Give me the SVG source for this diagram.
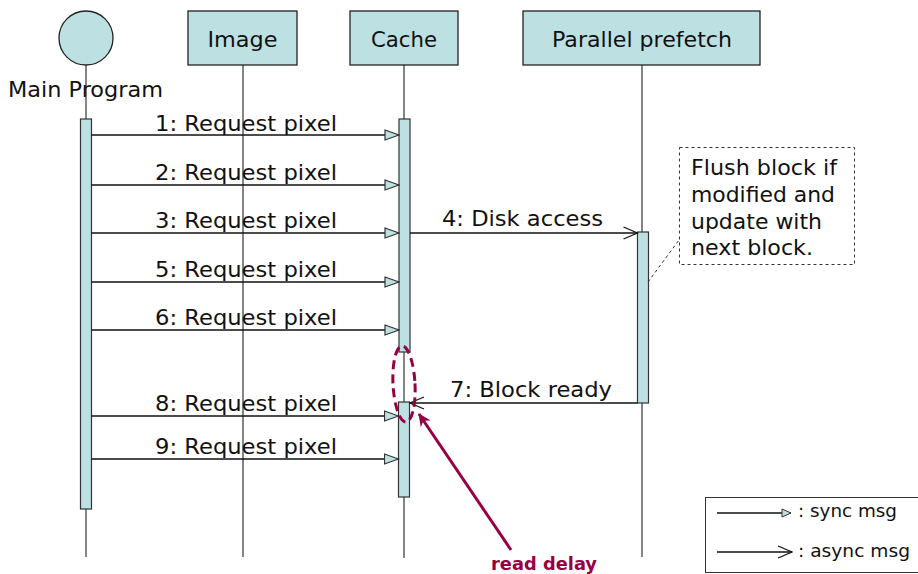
<svg xmlns="http://www.w3.org/2000/svg" width="918" height="574" viewBox="0 0 918 574">
<style>
text{font-family:"DejaVu Sans","Liberation Sans",sans-serif;fill:#111}
.hd{font-size:21px;text-anchor:middle}
.lbl{font-size:21px;text-anchor:middle}
.note{font-size:21px}
.lg{font-size:17px}
.box{fill:#bde0e3;stroke:#222;stroke-width:1.3}
.life{stroke:#333;stroke-width:1.2;fill:none}
.act{fill:#bde0e3;stroke:#333;stroke-width:1.2}
.msg{stroke:#111;stroke-width:1.3;fill:none}
.red{stroke:#990044;fill:none}
</style>
<defs>
<marker id="sync" viewBox="0 0 16 12" refX="15" refY="6" markerWidth="16" markerHeight="12" markerUnits="userSpaceOnUse" orient="auto">
<path d="M1,1 L15,6 L1,11 Z" fill="#bde0e3" stroke="#333" stroke-width="1.2"/>
</marker>
<marker id="syncs" viewBox="0 0 11 10" refX="10" refY="5" markerWidth="11" markerHeight="10" markerUnits="userSpaceOnUse" orient="auto">
<path d="M1,1 L10,5 L1,9 Z" fill="#bde0e3" stroke="#333" stroke-width="1"/>
</marker>
<marker id="async" viewBox="0 0 16 14" refX="15" refY="7" markerWidth="16" markerHeight="14" markerUnits="userSpaceOnUse" orient="auto">
<path d="M1,1 L15,7 L1,13" fill="none" stroke="#111" stroke-width="1.2"/>
</marker>
<marker id="redarrow" viewBox="0 0 14 14" refX="12" refY="7" markerWidth="14" markerHeight="14" markerUnits="userSpaceOnUse" orient="auto">
<path d="M0,1 L13,7 L0,13 L4,7 Z" fill="#990044"/>
</marker>
</defs>

<g id="lifelines">
<line class="life" x1="86" y1="65" x2="86" y2="557"/>
<line class="life" x1="243" y1="65" x2="243" y2="557"/>
<line class="life" x1="404" y1="65" x2="404" y2="558"/>
<line class="life" x1="642" y1="65" x2="642" y2="557"/>
</g>

<g id="main-program">
<circle class="box" cx="86" cy="38" r="27"/>
<text x="85.5" y="97" class="hd" textLength="155" lengthAdjust="spacingAndGlyphs">Main Program</text>
</g>
<g id="image">
<rect class="box" x="188" y="11" width="109" height="54"/>
<text x="242.5" y="46.5" class="hd" textLength="70" lengthAdjust="spacingAndGlyphs">Image</text>
</g>
<g id="cache">
<rect class="box" x="350" y="11" width="108" height="54"/>
<text x="404" y="46.5" class="hd" textLength="66" lengthAdjust="spacingAndGlyphs">Cache</text>
</g>
<g id="parallel-prefetch">
<rect class="box" x="523" y="11" width="237" height="54"/>
<text x="642" y="46.5" class="hd" textLength="180" lengthAdjust="spacingAndGlyphs">Parallel prefetch</text>
</g>

<g id="activations">
<rect class="act" x="80.5" y="119" width="11" height="390"/>
<rect class="act" x="399" y="119" width="11" height="233"/>
<rect class="act" x="398.5" y="402" width="11" height="95"/>
<rect class="act" x="637.5" y="232" width="11" height="171"/>
</g>

<g id="connectors">
<line class="msg" x1="91.5" y1="135" x2="399" y2="135" stroke-width="2.2" marker-end="url(#sync)"/>
<line class="msg" x1="91.5" y1="185" x2="399" y2="185" marker-end="url(#sync)"/>
<line class="msg" x1="91.5" y1="233" x2="399" y2="233" marker-end="url(#sync)"/>
<line class="msg" x1="91.5" y1="282" x2="399" y2="282" marker-end="url(#sync)"/>
<line class="msg" x1="91.5" y1="330" x2="399" y2="330" marker-end="url(#sync)"/>
<line class="msg" x1="91.5" y1="416" x2="398.5" y2="416" marker-end="url(#sync)"/>
<line class="msg" x1="91.5" y1="459" x2="398.5" y2="459" marker-end="url(#sync)"/>
<line class="msg" x1="410" y1="233" x2="637.5" y2="233" marker-end="url(#async)"/>
<line class="msg" x1="637.5" y1="403" x2="410" y2="403" marker-end="url(#async)"/>
<line x1="648" y1="282" x2="679" y2="240" stroke="#333" stroke-width="1" stroke-dasharray="3,3"/>
</g>

<g id="labels">
<text x="246" y="130.5" class="lbl" textLength="182" lengthAdjust="spacingAndGlyphs">1: Request pixel</text>
<text x="246" y="179.5" class="lbl" textLength="182" lengthAdjust="spacingAndGlyphs">2: Request pixel</text>
<text x="246" y="227.5" class="lbl" textLength="182" lengthAdjust="spacingAndGlyphs">3: Request pixel</text>
<text x="246" y="276.5" class="lbl" textLength="182" lengthAdjust="spacingAndGlyphs">5: Request pixel</text>
<text x="246" y="324.5" class="lbl" textLength="182" lengthAdjust="spacingAndGlyphs">6: Request pixel</text>
<text x="246" y="410.5" class="lbl" textLength="182" lengthAdjust="spacingAndGlyphs">8: Request pixel</text>
<text x="246" y="453.5" class="lbl" textLength="182" lengthAdjust="spacingAndGlyphs">9: Request pixel</text>
<text x="522.5" y="226" class="lbl" textLength="161" lengthAdjust="spacingAndGlyphs">4: Disk access</text>
<text x="531" y="397" class="lbl" textLength="162" lengthAdjust="spacingAndGlyphs">7: Block ready</text>
</g>

<g id="note">
<rect x="679.5" y="147.5" width="175" height="117" fill="#fff" stroke="#333" stroke-width="1" stroke-dasharray="3,3"/>
<text class="note" x="691" y="175" textLength="146" lengthAdjust="spacingAndGlyphs">Flush block if</text>
<text class="note" x="691" y="202" textLength="144" lengthAdjust="spacingAndGlyphs">modified and</text>
<text class="note" x="691" y="229" textLength="131" lengthAdjust="spacingAndGlyphs">update with</text>
<text class="note" x="691" y="255" textLength="122" lengthAdjust="spacingAndGlyphs">next block.</text>
</g>

<g id="read-delay">
<ellipse class="red" cx="404" cy="384" rx="11" ry="38" stroke-width="3" stroke-dasharray="9,5" transform="rotate(-3 404 384)"/>
<line class="red" x1="511" y1="550" x2="419" y2="414" stroke-width="3" marker-end="url(#redarrow)"/>
<text x="544" y="570" font-size="17" font-weight="bold" text-anchor="middle" textLength="106" lengthAdjust="spacingAndGlyphs" style="fill:#990044">read delay</text>
</g>

<g id="legend">
<rect x="705.5" y="497.5" width="215" height="75" fill="#fff" stroke="#333" stroke-width="1"/>
<line class="msg" x1="717" y1="513" x2="791" y2="513" stroke-width="1" marker-end="url(#syncs)"/>
<text class="lg" x="798" y="517" textLength="99" lengthAdjust="spacingAndGlyphs">: sync msg</text>
<line class="msg" x1="717" y1="552" x2="792" y2="552" stroke-width="1" marker-end="url(#async)"/>
<text class="lg" x="798" y="557" textLength="112" lengthAdjust="spacingAndGlyphs">: async msg</text>
</g>
</svg>
